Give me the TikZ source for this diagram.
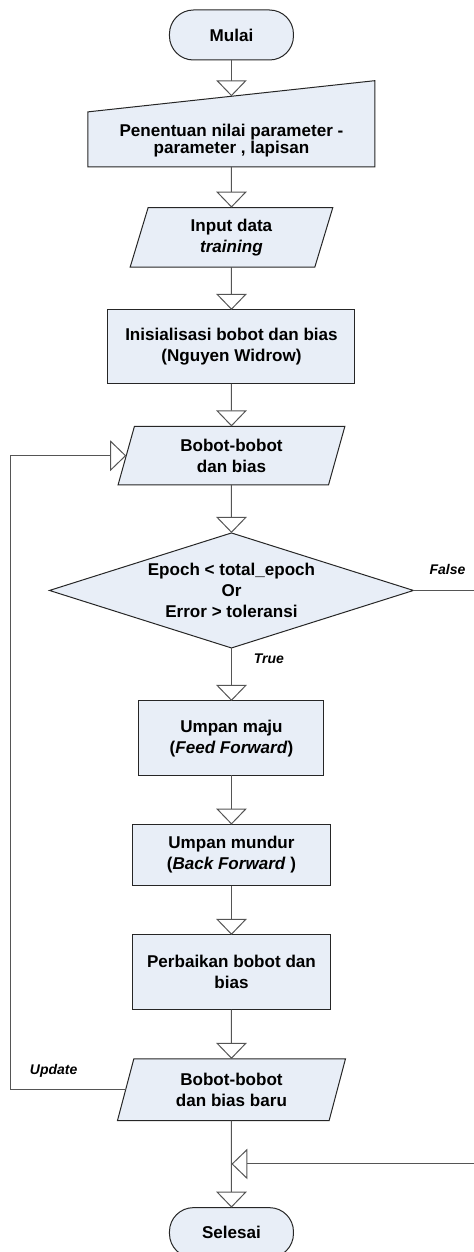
\documentclass[tikz,border=0pt]{standalone}
\usepackage{fontspec}
\setmainfont{Liberation Sans}
\usetikzlibrary{positioning, shapes.geometric, arrows.meta, backgrounds}
\definecolor{isi}{RGB}{232,238,247}
\definecolor{garis}{RGB}{85,85,85}

\begin{document}
\begin{tikzpicture}[%
  font=\fontsize{12.8}{15.75}\selectfont\bfseries,
  BoxStyle/.style={draw=black!85,fill=isi,line width=0.75pt,align=center,
    inner sep=0pt,outer sep=0pt},
  TermStyle/.style={BoxStyle,rounded corners=18pt,minimum width=93pt,minimum height=37.5pt},
  ProcStyle/.style={BoxStyle,rectangle},
  IOStyle/.style={BoxStyle,trapezium,trapezium left angle=64,trapezium right angle=116,
    trapezium stretches body},
  DecStyle/.style={BoxStyle,diamond,aspect=3.17,minimum width=273pt,minimum height=86.25pt},
  LinkStyle/.style={draw=garis,line width=0.75pt,-{Triangle[open,width=23pt,length=12pt]}},
  NoteStyle/.style={font=\fontsize{10.5}{12}\selectfont\bfseries\itshape},
  node distance=37pt]
  \useasboundingbox (0,0) rectangle (355.5pt,-939pt);

  \node[TermStyle] (mulai) at (173.6pt,-26.25pt) {Mulai};              % start
  \node[ProcStyle,draw=none,fill=none,minimum width=215.25pt,minimum height=53pt,
    font=\fontsize{12.8}{13.2}\selectfont\bfseries,text height=36pt,
    below=27.2pt of mulai] (param)
    {Penentuan nilai parameter -\\parameter , lapisan};                % manual input
  \node[IOStyle,minimum width=152pt,minimum height=44.7pt,below=30.5pt of param] (input)
    {Input data\\\textit{training}};
  \node[ProcStyle,minimum width=185.25pt,minimum height=55.5pt,below=32pt of input] (init)
    {Inisialisasi bobot dan bias\\(Nguyen Widrow)};
  \node[IOStyle,minimum width=170.1pt,minimum height=43.9pt,below=31.9pt of init] (bobot)
    {Bobot-bobot\\dan bias};
  \node[DecStyle,below=36pt of bobot] (cek)
    {Epoch < total\_epoch\\Or\\Error > toleransi};                   % loop test
  \node[ProcStyle,minimum width=138.75pt,minimum height=55.7pt,below=39.75pt of cek] (maju)
    {Umpan maju\\(\textit{Feed Forward})};
  \node[ProcStyle,minimum width=148.5pt,minimum height=45.75pt,below=of maju] (mundur)
    {Umpan mundur\\(\textit{Back Forward} )};
  \node[ProcStyle,minimum width=148.5pt,minimum height=56pt,below=of mundur] (perbaiki)
    {Perbaikan bobot dan\\bias};
  \node[IOStyle,minimum width=171pt,minimum height=46.3pt,below=of perbaiki] (baru)
    {Bobot-bobot\\dan bias baru};
  \node[TermStyle,below=65.25pt of baru] (selesai) {Selesai};          % end

  \coordinate[below=32.5pt of baru] (gabung);   % where the False branch joins
  \coordinate (kiri) at (7.5pt,0);
  \coordinate (kanan) at (360pt,0);

  % slanted top of the manual input box, kept behind its text
  \begin{scope}[on background layer]
    \draw[BoxStyle] (param.south west) -- (param.south east)
      -- ([yshift=11.7pt]param.north east) -- ([yshift=-11.7pt]param.north west) -- cycle;
  \end{scope}

  \draw[LinkStyle] (mulai) -- (param);
  \draw[LinkStyle] (param) -- (input);
  \draw[LinkStyle] (input) -- (init);
  \draw[LinkStyle] (init) -- (bobot);
  \draw[LinkStyle] (bobot) -- (cek);
  \draw[LinkStyle] (cek) -- (maju);
  \draw[LinkStyle] (maju) -- (mundur);
  \draw[LinkStyle] (mundur) -- (perbaiki);
  \draw[LinkStyle] (perbaiki) -- (baru);
  \draw[LinkStyle] (baru) -- (selesai);
  \draw[LinkStyle] (cek.east) -| (kanan |- gabung) -- (gabung);
  \draw[LinkStyle] (baru.left side) -| (kiri |- bobot.left side) -- (bobot.left side);

  \node[NoteStyle] (lfalse) at ([xshift=25.5pt,yshift=15.5pt]cek.east) {False};
  \node[NoteStyle] (ltrue) at ([xshift=28.1pt,yshift=-8.25pt]cek.south) {True};
  \node[NoteStyle] (lupdate) at ([xshift=-54pt,yshift=14.3pt]baru.left side) {Update};
\end{tikzpicture}
\end{document}
